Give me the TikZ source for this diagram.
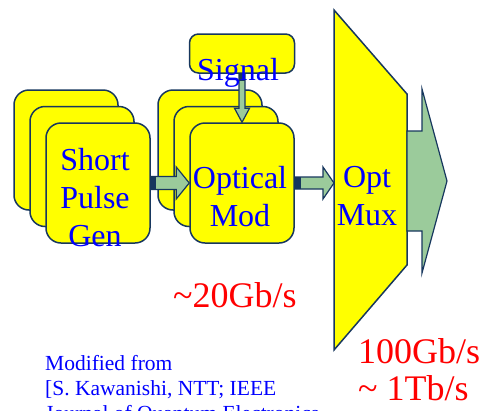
\documentclass[tikz,border=0pt]{standalone}
\usepackage{fontspec}
\setmainfont{Liberation Serif}
\newfontfamily\kserif{Liberation Serif}
\usepackage{xcolor}
\usepackage{tikz}
\usetikzlibrary{calc}
\definecolor{kyellow}{HTML}{FFFF00}
\definecolor{knavy}{HTML}{17375E}
\definecolor{kgreen}{HTML}{9BCB9B}
\definecolor{kblue}{HTML}{0000FF}
\definecolor{kred}{HTML}{FF0000}

% block arrow: from, to, shaft half width, head half width, head length, tab length
\newcommand\fatarrow[6]{%
  \coordinate (fa-base) at ($(#2)!#5!(#1)$);
  \draw[flow] ($(#1)!#3!90:(#2)$) -- ($(fa-base)!#3!-90:(#1)$)
    -- ($(fa-base)!#4!-90:(#1)$) -- (#2) -- ($(fa-base)!#4!90:(#1)$)
    -- ($(fa-base)!#3!90:(#1)$) -- ($(#1)!#3!-90:(#2)$) -- cycle;
  \draw[knavy,line width=2*#3] (#1) -- ($(#1)!#6!(#2)$);
}

\begin{document}
\begin{tikzpicture}[x=1pt,y=-1pt,
  unit/.style={draw=knavy,fill=kyellow,line width=1.5pt,rounded corners=15pt,
    minimum width=104pt,minimum height=120pt,inner sep=0pt},
  flow/.style={draw=knavy,fill=kgreen,line width=1.2pt,line join=miter},
  big/.style={text=kblue,align=center,inner sep=0pt,font=\kserif\fontsize{32}{38}\selectfont},
  rate/.style={text=kred,align=left,inner sep=0pt,font=\kserif\fontsize{36}{37}\selectfont},
  note/.style={text=kblue,align=left,inner sep=0pt,font=\kserif\fontsize{21.5}{25}\selectfont}]
  \useasboundingbox (0,0) rectangle (485,410);
  \clip (0,0) rectangle (485,410);

  % stacked pulse sources and modulators
  \foreach \k in {0,1,2} {
    \node[unit] (gen\k) at (66+16*\k,150+16.5*\k) {};
    \node[unit] (mod\k) at (210+16*\k,150+16.5*\k) {};
  }
  \node[unit,minimum width=105pt,minimum height=39pt,rounded corners=9pt] (signal) at (242,53.5) {};

  % multiplexer
  \draw[draw=knavy,fill=kyellow,line width=1.5pt] (334,10) -- (407,94) -- (407,265) -- (334,350) -- cycle;
  \coordinate (muxin) at (334,183);
  \coordinate (muxout) at (407,181);
  \coordinate (out) at (447,181);

  % flows
  \fatarrow{gen2.east}{mod2.west}{6.5pt}{16pt}{13pt}{5pt}
  \fatarrow{mod2.east}{muxin}{6pt}{16pt}{11pt}{6pt}
  \fatarrow{signal.south}{mod2.north}{3pt}{7.5pt}{14pt}{7pt}
  \fatarrow{muxout}{out}{50pt}{92pt}{25pt}{0pt}

  % labels
  \node[big,anchor=north] (gentxt) at (95,148) {Short\\Pulse\\Gen};
  \node[big,anchor=north] (modtxt) at (240,166) {Optical\\Mod};
  \node[big,anchor=north] (sigtxt) at (238,58) {Signal};
  \node[big,anchor=north] (muxtxt) at (367,166) {Opt\\Mux};
  \node[rate,anchor=base west] (lowrate) at (173,307) {\textasciitilde20Gb/s};
  \node[rate,anchor=north west] (highrate) at (358,338) {100Gb/s\\\textasciitilde{} 1Tb/s};
  \node[note,anchor=north west] (source) at (45,355) {Modified from\\{[}S. Kawanishi, NTT; IEEE\\Journal of Quantum Electronics};
\end{tikzpicture}
\end{document}
